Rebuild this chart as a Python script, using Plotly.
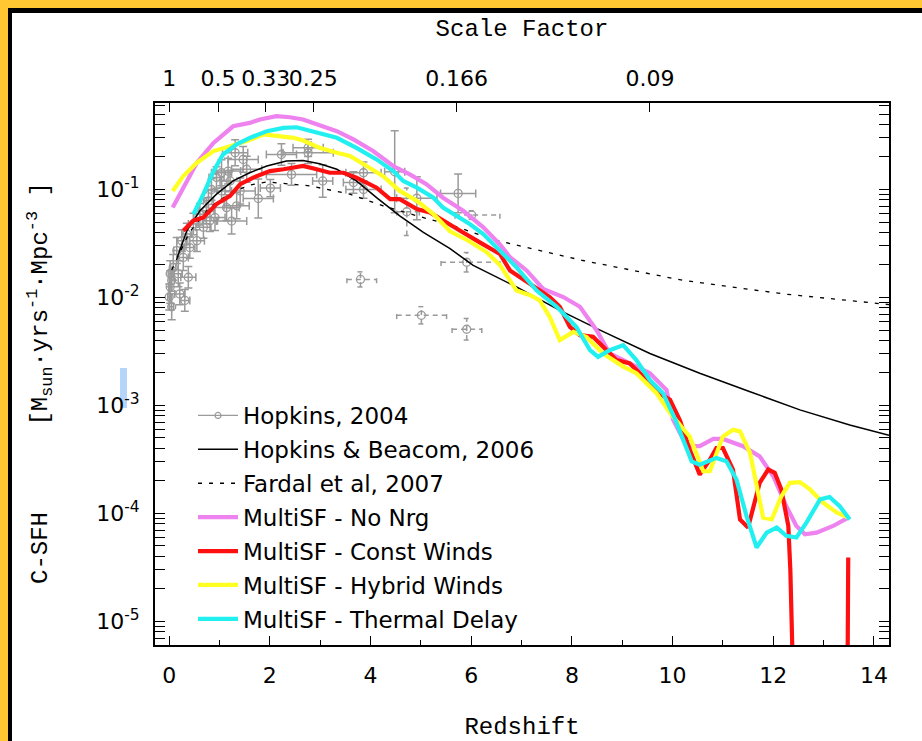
import numpy as np
import plotly.graph_objects as go

# ---------------- data ----------------
hb_z = [0.16, 0.35, 0.61, 0.94, 1.27, 1.60, 1.94, 2.33, 2.66, 2.99, 3.33, 3.72, 4.12, 4.58, 5.05, 5.58,
        6.04, 6.57, 6.90, 7.76, 8.56, 9.55, 10.54, 11.54, 12.53, 13.52, 14.3]
hb_v = [0.0235, 0.0415, 0.0636, 0.0905, 0.120, 0.143, 0.165, 0.184, 0.186, 0.173, 0.154, 0.120, 0.084, 0.057,
        0.040, 0.0283, 0.0198, 0.0149, 0.0125, 0.0076, 0.00498, 0.00303, 0.00199, 0.00134, 0.00091, 0.00066, 0.00053]

fa_z = [0.05, 0.4, 0.8, 1.2, 1.6, 1.94, 2.80, 3.59, 4.25, 4.92, 5.58, 6.50, 8.22, 10.21, 12.2, 14.3]
fa_v = [0.018, 0.040, 0.068, 0.092, 0.110, 0.1175, 0.108, 0.0905, 0.0706, 0.057, 0.0472, 0.0338, 0.022,
        0.0144, 0.0108, 0.0086]

nn_z = [0.07, 0.28, 0.55, 0.88, 1.27, 1.60, 1.80, 2.13, 2.40, 2.66, 2.99, 3.33, 3.66, 4.05, 4.45, 4.78, 5.11,
        5.44, 5.84, 6.24, 6.57, 6.77, 7.10, 7.43, 7.83, 8.16, 8.49, 8.75, 9.15, 9.55, 9.88, 10.01, 10.28,
        10.54, 10.81, 11.0, 11.40, 11.73, 12.0, 12.26, 12.46, 12.63, 12.86, 13.19, 13.49]
nn_v = [0.068, 0.104, 0.177, 0.27, 0.385, 0.414, 0.445, 0.477, 0.467, 0.445, 0.392, 0.347, 0.291, 0.227,
        0.165, 0.138, 0.112, 0.084, 0.0635, 0.0446, 0.031, 0.0236, 0.0178, 0.012, 0.0101, 0.0082, 0.00498,
        0.00303, 0.00245, 0.00199, 0.00139, 0.00074, 0.00042, 0.00042, 0.00049, 0.00049, 0.00042, 0.000338,
        0.000221, 0.000117, 0.0000765, 0.0000642, 0.0000665, 0.0000766, 0.0000914]

cw_z = [0.28, 0.48, 0.68, 0.94, 1.21, 1.41, 1.67, 2.0, 2.27, 2.66, 2.93, 3.19, 3.46, 3.72, 4.12, 4.39, 4.58,
        4.92, 5.18, 5.44, 5.78, 6.17, 6.57, 6.77, 6.97, 7.23, 7.56, 7.76, 7.96, 8.16, 8.42, 8.62, 8.89, 9.15,
        9.42, 9.68, 9.95, 10.15, 10.34, 10.54, 10.74, 10.87, 11.0, 11.20, 11.34, 11.50, 11.73, 11.90, 12.03,
        12.16, 12.30, 12.34, 12.42, 13.47, 13.49]
cw_v = [0.0415, 0.0514, 0.0551, 0.0733, 0.0873, 0.112, 0.129, 0.148, 0.154, 0.165, 0.154, 0.143, 0.143,
        0.129, 0.104, 0.0814, 0.0814, 0.0658, 0.0612, 0.0514, 0.0415, 0.0324, 0.0253, 0.0178, 0.0154,
        0.0125, 0.0101, 0.0082, 0.00533, 0.00448, 0.00432, 0.00349, 0.00263, 0.00245, 0.00185, 0.00134,
        0.00113, 0.00072, 0.00039, 0.000229, 0.000315, 0.000404, 0.000404, 0.000255, 0.000088, 0.000074,
        0.000192, 0.000255, 0.000238, 0.000167, 0.0000766, 0.00003, 0.000001, 0.000001, 0.0000392]

hw_z = [0.07, 0.28, 0.55, 0.88, 1.21, 1.54, 1.87, 2.13, 2.47, 2.66, 2.99, 3.33, 3.59, 3.92, 4.25, 4.58,
        4.92, 5.25, 5.58, 5.97, 6.31, 6.57, 6.90, 7.17, 7.36, 7.56, 7.76, 8.03, 8.29, 8.62, 9.02, 9.28, 9.68,
        9.95, 10.34, 10.61, 10.74, 11.0, 11.20, 11.34, 11.54, 11.80, 11.97, 12.16, 12.33, 12.53, 12.73, 12.99,
        13.26, 13.49]
hw_v = [0.097, 0.133, 0.177, 0.227, 0.252, 0.281, 0.323, 0.312, 0.301, 0.284, 0.243, 0.219, 0.204, 0.165,
        0.133, 0.097, 0.0785, 0.0591, 0.041, 0.0330, 0.0262, 0.020, 0.0116, 0.0105, 0.0094, 0.0066, 0.00403,
        0.0048, 0.00431, 0.00303, 0.00229, 0.00199, 0.0013, 0.00085, 0.000516, 0.000246, 0.000246, 0.000516,
        0.000596, 0.000575, 0.000363, 0.0000914, 0.000088, 0.000144, 0.000192, 0.000195, 0.000167, 0.000126,
        0.000102, 0.0000914]

td_z = [0.48, 0.68, 0.88, 1.07, 1.34, 1.60, 1.94, 2.27, 2.53, 2.80, 2.99, 3.33, 3.72, 4.12, 4.45, 4.65,
        4.92, 5.25, 5.44, 5.71, 5.97, 6.24, 6.44, 6.90, 7.30, 7.70, 8.09, 8.36, 8.52, 8.75, 9.02, 9.28, 9.55,
        9.81, 10.05, 10.21, 10.38, 10.54, 10.87, 11.07, 11.27, 11.47, 11.67, 11.87, 12.07, 12.26, 12.46, 12.66,
        12.93, 13.12, 13.32, 13.52]
td_v = [0.059, 0.0905, 0.148, 0.211, 0.262, 0.301, 0.347, 0.372, 0.377, 0.347, 0.334, 0.301, 0.243, 0.19,
        0.148, 0.12, 0.104, 0.084, 0.068, 0.057, 0.0479, 0.0387, 0.0313, 0.019, 0.0116, 0.0082, 0.00533,
        0.00325, 0.00282, 0.00325, 0.00362, 0.00263, 0.00172, 0.0013, 0.00075, 0.000482, 0.000304, 0.000283,
        0.000327, 0.000304, 0.000206, 0.0000946, 0.0000484, 0.0000665, 0.000074, 0.000062, 0.0000598,
        0.0000822, 0.000135, 0.000142, 0.000117, 0.000088]

ho_z = [0.00, 0.02, 0.02, 0.05, 0.05, 0.08, 0.15, 0.18, 0.21, 0.25, 0.28, 0.31, 0.35, 0.38, 0.41, 0.48,
        0.55, 0.61, 0.68, 0.74, 0.78, 0.81, 0.84, 0.91, 0.94, 1.04, 1.04, 1.14, 1.17, 1.21, 1.24, 1.31, 1.34,
        1.41, 1.47, 1.54, 1.77, 2.01, 2.23, 2.43, 2.76, 2.76, 3.05, 3.66, 3.86, 3.86, 4.48, 4.92, 5.74]
ho_v = [0.0101, 0.0125, 0.0166, 0.0082, 0.0144, 0.019, 0.0272, 0.0166, 0.0108, 0.0336, 0.0235, 0.0094,
        0.0387, 0.0154, 0.029, 0.0479, 0.0336, 0.059, 0.0446, 0.0635, 0.0785, 0.0514, 0.100, 0.055, 0.129,
        0.143, 0.097, 0.068, 0.148, 0.120, 0.051, 0.219, 0.0706, 0.097, 0.190, 0.154, 0.0825, 0.103, 0.211,
        0.138, 0.219, 0.243, 0.120, 0.116, 0.143, 0.100, 0.146, 0.083, 0.092]
ho_zerr = [0.03, 0.03, 0.04, 0.04, 0.05, 0.05, 0.06, 0.08, 0.10, 0.10, 0.10, 0.10, 0.10, 0.15, 0.10, 0.10,
           0.15, 0.12, 0.15, 0.15, 0.10, 0.15, 0.10, 0.20, 0.15, 0.20, 0.20, 0.25, 0.25, 0.20, 0.30, 0.25,
           0.25, 0.30, 0.30, 0.30, 0.30, 0.20, 0.30, 0.50, 0.50, 0.30, 0.20, 0.20, 0.35, 0.35, 0.20, 0.40, 0.35]
ho_dex = [0.12, 0.15, 0.12, 0.12, 0.10, 0.12, 0.12, 0.12, 0.10, 0.10, 0.12, 0.10, 0.10, 0.10, 0.10, 0.10,
          0.10, 0.10, 0.10, 0.12, 0.10, 0.10, 0.10, 0.12, 0.10, 0.12, 0.10, 0.12, 0.12, 0.10, 0.12, 0.12,
          0.12, 0.12, 0.12, 0.12, 0.18, 0.08, 0.10, 0.10, 0.10, 0.08, 0.15, 0.10, 0.10, 0.08, 0.38, 0.20, 0.18]

hd_z = [3.80, 4.72, 5.01, 5.91, 5.91, 6.01]
hd_v = [0.0147, 0.0622, 0.00684, 0.00508, 0.0212, 0.058]
hd_zlo = [0.27, 0.20, 0.49, 0.29, 0.51, 0.33]
hd_zhi = [0.32, 0.25, 0.50, 0.30, 0.66, 0.56]
hd_dex = [0.07, 0.22, 0.08, 0.10, 0.09, 0.04]

sf_pos = [0.0, 0.97, 1.92, 2.86, 5.71, 9.55]
sf_lab = ["1", "0.5", "0.33", "0.25", "0.166", "0.09"]

y_ticks = [1e-5, 1e-4, 1e-3, 1e-2, 1e-1]
y_labels = ["10<sup>-5</sup>", "10<sup>-4</sup>", "10<sup>-3</sup>", "10<sup>-2</sup>", "10<sup>-1</sup>"]

Y_TITLE = ("C-SFH\u00a0\u00a0\u00a0\u00a0\u00a0\u00a0[M<sub>sun</sub>\u00b7yrs<sup>-1</sup>"
           "\u00b7Mpc<sup>-3</sup>\u00a0]")

# ---------------- figure ----------------
GRAY = "#9a9a9a"
SANS = "DejaVu Sans"
MONO = "Liberation Mono"

ho_v_a = np.array(ho_v)
ho_dex_a = np.array(ho_dex)
up = ho_v_a * (10 ** ho_dex_a - 1)
dn = ho_v_a * (1 - 10 ** (-ho_dex_a))

fig = go.Figure()

fig.add_trace(go.Scatter(
    x=ho_z, y=ho_v, mode="markers", showlegend=False, name="Hopkins, 2004",
    marker=dict(symbol="circle-open", size=8, color=GRAY, line=dict(width=1.3, color=GRAY)),
    error_x=dict(type="data", array=ho_zerr, color=GRAY, thickness=1.5, width=4),
    error_y=dict(type="data", array=up.tolist(), arrayminus=dn.tolist(), color=GRAY, thickness=1.5, width=4),
))

segx, segy = [], []
capz, capd = 0.06, 0.035
for z, v, zl, zh, d in zip(hd_z, hd_v, hd_zlo, hd_zhi, hd_dex):
    segx += [z - zl, z + zh, None, z, z, None]
    segy += [v, v, None, v * 10 ** (-d), v * 10 ** d, None]
    for ze in (z - zl, z + zh):
        segx += [ze, ze, None]
        segy += [v * 10 ** (-capd), v * 10 ** capd, None]
    for ve in (v * 10 ** (-d), v * 10 ** d):
        segx += [z - capz, z + capz, None]
        segy += [ve, ve, None]
fig.add_trace(go.Scatter(x=segx, y=segy, mode="lines", showlegend=False, hoverinfo="skip",
                         line=dict(color=GRAY, width=1.5, dash="5px,4px")))
fig.add_trace(go.Scatter(x=hd_z, y=hd_v, mode="markers", showlegend=False,
                         marker=dict(symbol="circle-open", size=8, color=GRAY, line=dict(width=1.3, color=GRAY))))

fig.add_trace(go.Scatter(x=[None], y=[None], mode="lines+markers", name="Hopkins, 2004", xaxis="x2",
                         legendgroup="g1",
                         line=dict(color=GRAY, width=1.3),
                         marker=dict(symbol="circle-open", size=6, color=GRAY, line=dict(width=1.2, color=GRAY))))

fig.add_trace(go.Scatter(x=hb_z, y=hb_v, mode="lines", name="Hopkins &amp; Beacom, 2006", legendgroup="g2",
                         line=dict(color="black", width=1.5)))
fig.add_trace(go.Scatter(x=fa_z, y=fa_v, mode="lines", name="Fardal et al, 2007", legendgroup="g3",
                         line=dict(color="black", width=1.3, dash="4px,7px")))

series = [
    (nn_z, nn_v, "MultiSF - No Nrg", "#EE82EE"),
    (cw_z, cw_v, "MultiSF - Const Winds", "#FF1010"),
    (hw_z, hw_v, "MultiSF - Hybrid Winds", "#FFFF22"),
    (td_z, td_v, "MultiSF - Thermal Delay", "#22F0F0"),
]
for i, (z, v, name, col) in enumerate(series):
    fig.add_trace(go.Scatter(x=z, y=v, mode="lines", name=name, legendgroup="g%d" % (i + 4),
                             line=dict(color=col, width=4.2)))

W, H = 922, 741
L, R, T, B = 155, 33, 103, 96
pw, ph = W - L - R, H - T - B

def px_x(p):
    return (p - L) / pw

def px_y(p):
    return (H - B - p) / ph

ORANGE = "#FFC833"
shapes = [
    dict(type="rect", xref="paper", yref="paper", x0=px_x(0), x1=px_x(8), y0=px_y(H), y1=px_y(0),
         fillcolor=ORANGE, line=dict(width=0), layer="below"),
    dict(type="rect", xref="paper", yref="paper", x0=px_x(0), x1=px_x(W), y0=px_y(8), y1=px_y(0),
         fillcolor=ORANGE, line=dict(width=0), layer="below"),
    dict(type="rect", xref="paper", yref="paper", x0=px_x(8), x1=px_x(12), y0=px_y(H), y1=px_y(8),
         fillcolor="black", line=dict(width=0), layer="below"),
    dict(type="rect", xref="paper", yref="paper", x0=px_x(8), x1=px_x(W), y0=px_y(13), y1=px_y(8),
         fillcolor="black", line=dict(width=0), layer="below"),
    dict(type="rect", xref="paper", yref="paper", x0=px_x(120), x1=px_x(127), y0=px_y(408), y1=px_y(368),
         fillcolor="#B5D5FB", line=dict(width=0), layer="below"),
]

annotations = [
    dict(text=Y_TITLE, xref="paper", yref="paper", x=px_x(40), y=px_y(383), xanchor="center",
         yanchor="middle", textangle=-90, showarrow=False, font=dict(family=MONO, size=24, color="black")),
]

fig.update_layout(
    width=W, height=H,
    margin=dict(l=L, r=R, t=T, b=B, autoexpand=False),
    paper_bgcolor="white", plot_bgcolor="white",
    shapes=shapes, annotations=annotations,
    showlegend=True,
    legend=dict(x=px_x(193), y=px_y(394), xanchor="left", yanchor="top", bgcolor="rgba(0,0,0,0)",
                traceorder="grouped", tracegroupgap=1,
                font=dict(family=SANS, size=23, color="black"), itemwidth=40),
    xaxis=dict(range=[-0.282, 14.30], dtick=2, tick0=0, ticks="inside", ticklen=9, tickwidth=1.2,
               tickcolor="black", showline=True, linecolor="black", linewidth=2, mirror=True,
               showgrid=False, zeroline=False,
               minor=dict(dtick=1, tick0=0, ticks="inside", ticklen=5, tickwidth=1.2, tickcolor="black", showgrid=False),
               tickfont=dict(family=SANS, size=22, color="black"), ticklabelstandoff=10,
               title=dict(text="Redshift", font=dict(family=MONO, size=24, color="black"), standoff=32)),
    xaxis2=dict(range=[-0.282, 14.30], overlaying="x", side="top", anchor="y",
                tickmode="array", tickvals=sf_pos, ticktext=sf_lab, tickangle=0,
                ticks="inside", ticklen=9, tickwidth=1.2,
                tickcolor="black", showline=False, showgrid=False, zeroline=False,
                tickfont=dict(family=SANS, size=22, color="black"), ticklabelstandoff=12,
                title=dict(text="Scale Factor", font=dict(family=MONO, size=24, color="black"), standoff=22)),
    yaxis=dict(type="log", range=[-5.218, -0.199], tickmode="array", tickvals=y_ticks, ticktext=y_labels,
               ticks="inside", ticklen=10, tickwidth=1.2, tickcolor="black",
               showline=True, linecolor="black", linewidth=2, mirror="allticks",
               showgrid=False, zeroline=False,
               minor=dict(dtick="D1", ticks="inside", ticklen=5, tickwidth=1.2, tickcolor="black", showgrid=False),
               tickfont=dict(family=SANS, size=22, color="black"), ticklabelstandoff=9),
)

fig.write_html("out.html")
